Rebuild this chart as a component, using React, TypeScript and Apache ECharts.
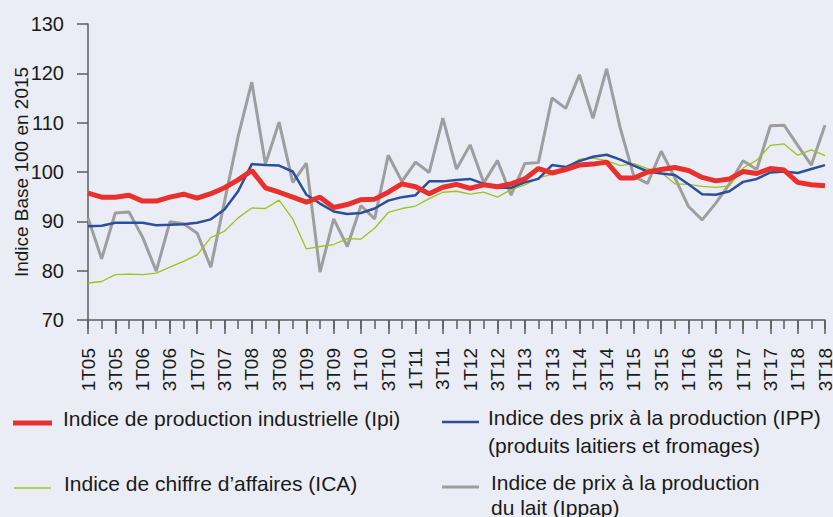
import React, { useEffect, useRef } from 'react';
import * as echarts from 'echarts';

const categories = [
  '1T05', '2T05', '3T05', '4T05', '1T06', '2T06', '3T06', '4T06',
  '1T07', '2T07', '3T07', '4T07', '1T08', '2T08', '3T08', '4T08',
  '1T09', '2T09', '3T09', '4T09', '1T10', '2T10', '3T10', '4T10',
  '1T11', '2T11', '3T11', '4T11', '1T12', '2T12', '3T12', '4T12',
  '1T13', '2T13', '3T13', '4T13', '1T14', '2T14', '3T14', '4T14',
  '1T15', '2T15', '3T15', '4T15', '1T16', '2T16', '3T16', '4T16',
  '1T17', '2T17', '3T17', '4T17', '1T18', '2T18', '3T18',
];

const ipi = [
  95.7, 94.9, 94.9, 95.3, 94.1, 94.1, 94.9, 95.5, 94.7, 95.6, 96.8, 98.4, 100.3, 96.8, 95.9, 94.9,
  93.9, 94.9, 92.8, 93.4, 94.4, 94.5, 95.9, 97.6, 97.0, 95.6, 96.9, 97.5, 96.7, 97.4, 97.0, 97.6,
  98.6, 100.7, 99.8, 100.5, 101.4, 101.6, 102.0, 98.8, 98.8, 100.0, 100.5, 100.9, 100.3, 98.9, 98.2, 98.6,
  100.1, 99.7, 100.7, 100.4, 97.9, 97.4, 97.2,
];

const ipp = [
  89.0, 89.1, 89.7, 89.7, 89.7, 89.2, 89.3, 89.4, 89.7, 90.4, 92.4, 96.1, 101.6, 101.4, 101.3, 100.1,
  95.4, 93.6, 92.0, 91.5, 91.7, 92.6, 94.2, 94.9, 95.3, 98.1, 98.1, 98.4, 98.6, 97.6, 96.8, 96.8,
  97.9, 98.6, 101.4, 101.0, 102.2, 103.1, 103.5, 102.5, 101.3, 100.1, 99.7, 99.4, 97.5, 95.5, 95.4, 96.1,
  98.0, 98.6, 99.9, 100.1, 99.8, 100.6, 101.4,
];

const ica = [
  77.5, 77.8, 79.2, 79.3, 79.2, 79.5, 80.7, 81.9, 83.2, 86.7, 88.0, 90.7, 92.7, 92.6, 94.3, 90.5,
  84.4, 84.9, 85.3, 86.5, 86.4, 88.6, 91.8, 92.6, 93.1, 94.6, 95.9, 96.1, 95.5, 95.9, 94.9, 96.4,
  97.4, 98.8, 99.5, 100.8, 102.6, 102.8, 102.3, 101.3, 101.7, 100.7, 99.9, 97.6, 97.5, 97.1, 96.9, 97.2,
  100.8, 102.4, 105.4, 105.7, 103.4, 104.5, 103.3,
];

const ippap = [
  90.7, 82.4, 91.7, 91.9, 86.8, 79.9, 89.9, 89.5, 87.6, 80.7, 94.0, 107.2, 118.2, 101.6, 110.1, 97.9,
  101.8, 79.7, 90.5, 84.9, 93.2, 90.5, 103.4, 98.1, 102.0, 99.9, 110.9, 100.6, 105.5, 97.8, 102.3, 95.3,
  101.7, 101.9, 115.0, 112.9, 119.7, 110.9, 120.9, 108.9, 99.1, 97.7, 104.2, 98.8, 93.0, 90.3, 93.7, 97.6,
  102.3, 100.5, 109.4, 109.5, 105.4, 101.4, 109.5,
];

const NAME_IPI = 'Indice de production industrielle (Ipi)';
const NAME_IPP = 'Indice des prix à la production (IPP)';
const NAME_IPP_2 = '(produits laitiers et fromages)';
const NAME_ICA = 'Indice de chiffre d\u2019affaires (ICA)';
const NAME_IPPAP = 'Indice de prix à la production';
const NAME_IPPAP_2 = 'du lait (Ippap)';

const FONT = '"Liberation Sans", Arial, Helvetica, sans-serif';
const TEXT = '#1a1a1a';
const AXIS = '#5c5c5c';

// legend swatch sitting 5px below the text's middle
const swatch = (w: number, t: number) => 'path://M0,0h0M0,10h' + w + 'v' + t + 'h-' + w + 'z';

export default function App() {
  const ref = useRef<HTMLDivElement>(null);

  useEffect(() => {
    document.body.style.margin = '0';
    const chart = echarts.init(ref.current!, null, { renderer: 'svg' });
    const legendText = (padLeft: number) => ({
      fontSize: 21,
      lineHeight: 26,
      color: TEXT,
      fontFamily: FONT,
      padding: [0, 0, 0, padLeft],
    });
    const baseLegend = {
      padding: 0,
      selectedMode: false,
      itemStyle: { borderWidth: 0 },
    };
    chart.setOption({
      animation: false,
      backgroundColor: '#eaedf6',
      grid: { left: 88, right: 8, top: 24, bottom: 197, containLabel: false, outerBoundsMode: 'none' },
      legend: [
        { ...baseLegend, data: [NAME_IPI], left: 13, top: 405, icon: swatch(39, 5), itemWidth: 39, itemHeight: 15, textStyle: legendText(6) },
        { ...baseLegend, data: [NAME_IPP], left: 442, top: 404, icon: swatch(37, 2.5), itemWidth: 37, itemHeight: 12.5, textStyle: legendText(4) },
        { ...baseLegend, data: [NAME_ICA], left: 14, top: 470, icon: swatch(37, 1.3), itemWidth: 37, itemHeight: 11.3, textStyle: legendText(8) },
        { ...baseLegend, data: [NAME_IPPAP], left: 442, top: 469, icon: swatch(37, 3), itemWidth: 37, itemHeight: 13, textStyle: legendText(7) },
      ],
      graphic: [
        {
          type: 'text', x: 488, y: 445,
          style: { text: NAME_IPP_2, fontSize: 21, fontFamily: FONT, fill: TEXT, verticalAlign: 'middle' },
        },
        {
          type: 'text', x: 491, y: 507,
          style: { text: NAME_IPPAP_2, fontSize: 21, fontFamily: FONT, fill: TEXT, verticalAlign: 'middle' },
        },
      ],
      xAxis: [
        {
          type: 'category',
          data: categories,
          boundaryGap: false,
          position: 'bottom',
          axisLine: { show: true, lineStyle: { color: AXIS, width: 1.5 } },
          axisTick: { show: true, interval: 1, length: 14, lineStyle: { color: AXIS, width: 1.5 } },
          axisLabel: { interval: 1, rotate: 90, fontSize: 19, lineHeight: 15, margin: 28, color: TEXT, fontFamily: FONT },
          splitLine: { show: false },
        },
        {
          type: 'category',
          data: categories,
          boundaryGap: false,
          position: 'bottom',
          axisLine: { show: false },
          axisTick: { show: true, interval: 0, length: 9, lineStyle: { color: AXIS, width: 1.5 } },
          axisLabel: { show: false },
          splitLine: { show: false },
        },
      ],
      yAxis: {
        type: 'value',
        min: 70,
        max: 130,
        interval: 10,
        name: 'Indice Base 100 en 2015',
        nameLocation: 'middle',
        nameGap: 57,
        nameMoveOverlap: false,
        nameTextStyle: { fontSize: 19, color: TEXT, fontFamily: FONT },
        axisLine: { show: true, lineStyle: { color: AXIS, width: 1.5 } },
        axisTick: { show: true, length: 11, lineStyle: { color: AXIS, width: 1.5 } },
        axisLabel: { fontSize: 20, margin: 24, color: TEXT, fontFamily: FONT },
        splitLine: { show: false },
      },
      series: [
        {
          name: NAME_IPPAP, type: 'line', data: ippap, symbol: 'none', color: '#9e9e9e',
          lineStyle: { width: 3, color: '#9e9e9e' },
        },
        {
          name: NAME_ICA, type: 'line', data: ica, symbol: 'none', color: '#9cc41e',
          lineStyle: { width: 1.3, color: '#9cc41e' },
        },
        {
          name: NAME_IPP, type: 'line', data: ipp, symbol: 'none', color: '#2b4e9d',
          lineStyle: { width: 2.5, color: '#2b4e9d' },
        },
        {
          name: NAME_IPI, type: 'line', data: ipi, symbol: 'none', color: '#e8302d',
          lineStyle: { width: 5, color: '#e8302d' },
        },
      ],
    });
    return () => chart.dispose();
  }, []);

  return <div ref={ref} style={{ width: 833, height: 517 }} />;
}
